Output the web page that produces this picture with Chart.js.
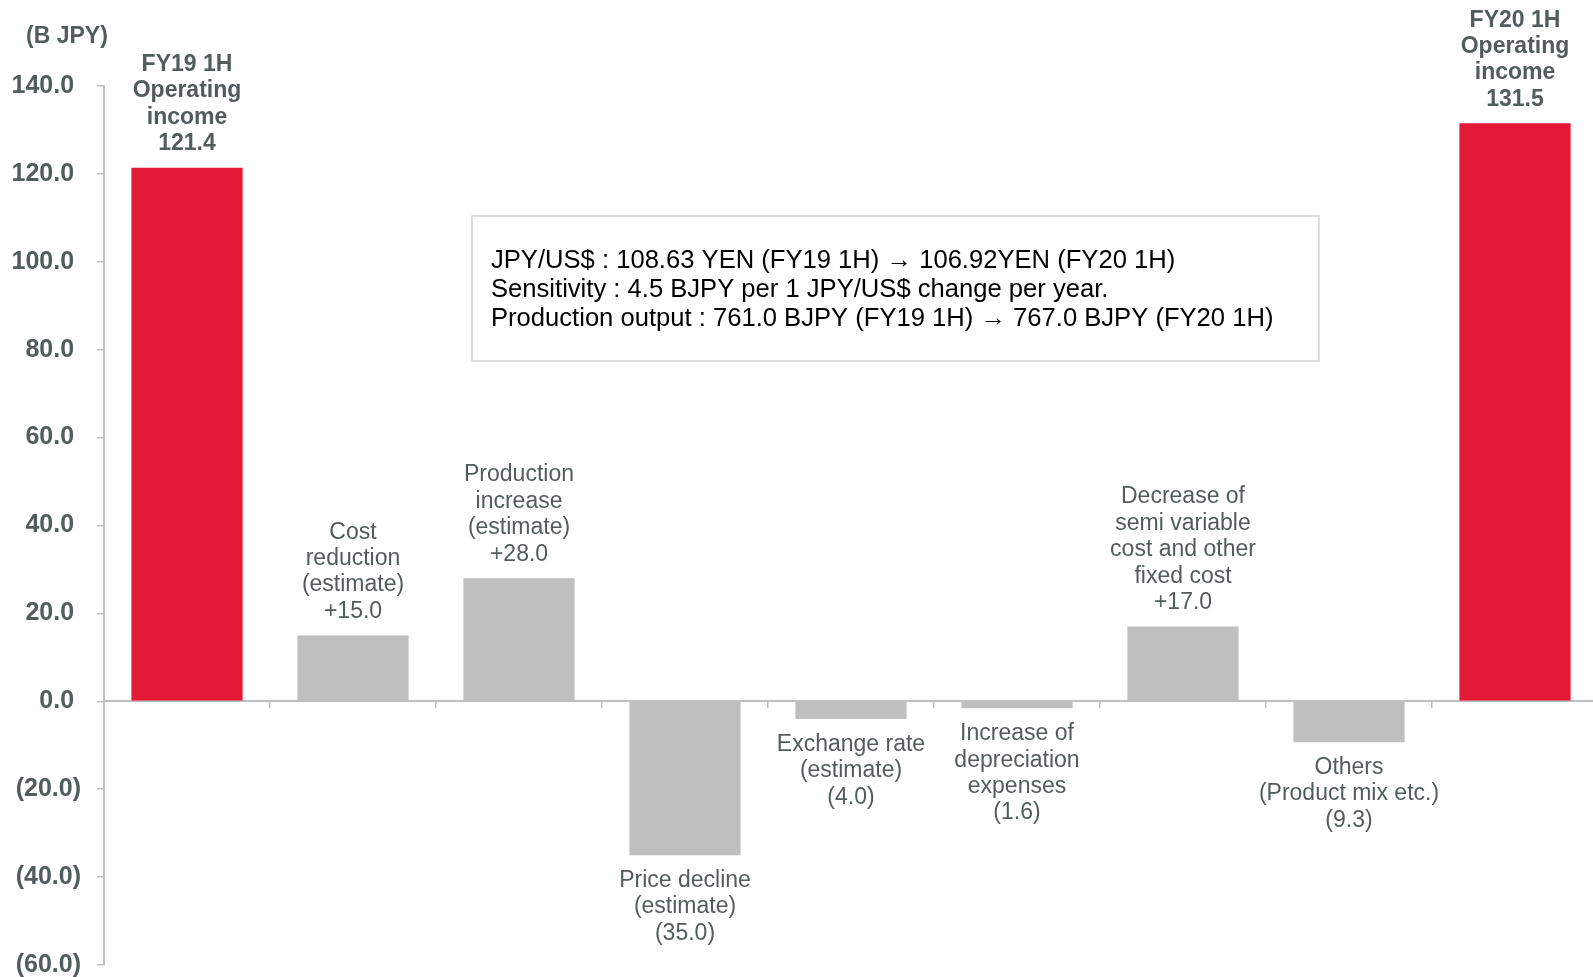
<!DOCTYPE html>
<html lang="en">
<head>
  <meta charset="UTF-8">
  <title>Operating income FY19 1H - FY20 1H</title>
  <script src="https://cdn.jsdelivr.net/npm/chart.js"></script>
  <style>
    html, body { margin: 0; padding: 0; background: #fff; overflow: hidden; }
    #wrap { width: 1598px; height: 977px; }
  </style>
</head>
<body>
  <div id="wrap"><canvas id="chart" width="1598" height="977"></canvas></div>

  <script>
    // category labels (one array of lines per bar)
    const categories = [
      ['FY19 1H', 'Operating', 'income'],
      ['Cost', 'reduction', '(estimate)'],
      ['Production', 'increase', '(estimate)'],
      ['Price decline', '(estimate)'],
      ['Exchange rate', '(estimate)'],
      ['Increase of', 'depreciation', 'expenses'],
      ['Decrease of', 'semi variable', 'cost and other', 'fixed cost'],
      ['Others', '(Product mix etc.)'],
      ['FY20 1H', 'Operating', 'income']
    ];
    const values = [121.4, 15.0, 28.0, -35.0, -4.0, -1.6, 17.0, -9.3, 131.5];
    const isTotal = [true, false, false, false, false, false, false, false, true];

    const yTicks = [-60, -40, -20, 0, 20, 40, 60, 80, 100, 120, 140];
    const unitLabel = '(B JPY)';
    const noteLines = [
      'JPY/US$ : 108.63 YEN (FY19 1H) \u2192 106.92YEN (FY20 1H)',
      'Sensitivity : 4.5 BJPY per 1 JPY/US$ change per year.',
      'Production output : 761.0 BJPY (FY19 1H) \u2192 767.0 BJPY (FY20 1H)'
    ];

    const RED = '#e31937';
    const GREY = '#bfbfbf';
    const TEXT = '#535c5d';
    const FONT = '"Liberation Sans", Arial, sans-serif';

    function fmtValue(v, total) {
      if (total) return v.toFixed(1);
      return v >= 0 ? '+' + v.toFixed(1) : '(' + Math.abs(v).toFixed(1) + ')';
    }

    const labelPlugin = {
      id: 'barLabels',
      afterDatasetsDraw(chart) {
        const ctx = chart.ctx;
        const meta = chart.getDatasetMeta(0);
        const lh = 26.4;
        ctx.save();
        ctx.textAlign = 'center';
        ctx.textBaseline = 'middle';
        ctx.fillStyle = TEXT;
        meta.data.forEach((bar, i) => {
          const lines = categories[i].concat([fmtValue(values[i], isTotal[i])]);
          ctx.font = (isTotal[i] ? 'bold ' : '') + '23px ' + FONT;
          if (values[i] >= 0) {
            const last = bar.y - 24;
            lines.forEach((t, k) => {
              ctx.fillText(t, bar.x, last - (lines.length - 1 - k) * lh);
            });
          } else {
            const first = bar.y + 25.5;
            lines.forEach((t, k) => {
              ctx.fillText(t, bar.x, first + k * lh);
            });
          }
        });

        // unit label
        ctx.font = 'bold 23px ' + FONT;
        ctx.textAlign = 'left';
        ctx.fillText(unitLabel, 26, 37);

        // note box
        ctx.strokeStyle = '#d4d4d4';
        ctx.lineWidth = 1.5;
        ctx.strokeRect(472, 216, 847, 145);
        ctx.fillStyle = '#000';
        ctx.font = '25.6px ' + FONT;
        ctx.textBaseline = 'alphabetic';
        noteLines.forEach((t, k) => ctx.fillText(t, 491, 268 + k * 29));
        ctx.restore();
      }
    };

    new Chart(document.getElementById('chart'), {
      type: 'bar',
      data: {
        labels: categories,
        datasets: [{
          data: values,
          backgroundColor: values.map((v, i) => isTotal[i] ? RED : GREY),
          barPercentage: 0.67,
          categoryPercentage: 1.0
        }]
      },
      options: {
        responsive: false,
        animation: false,
        layout: { padding: { top: 86, bottom: 12, left: 0, right: 0 } },
        plugins: {
          legend: { display: false },
          tooltip: { enabled: false }
        },
        scales: {
          x: {
            position: { y: 0 },
            ticks: { display: false },
            grid: {
              offset: true,
              drawOnChartArea: false,
              drawTicks: true,
              tickLength: 6,
              color: GREY,
              lineWidth: 1.5
            },
            border: { color: GREY, width: 2 }
          },
          y: {
            min: -60,
            max: 140,
            afterBuildTicks: s => { s.ticks = yTicks.map(v => ({ value: v })); },
            afterFit: s => { s.width = 104; s.paddingTop = 0; s.paddingBottom = 0; },
            ticks: {
              padding: 16,
              color: TEXT,
              font: { family: FONT, size: 25, weight: 'bold' },
              callback: v => v >= 0 ? v.toFixed(1) + ' ' : '(' + Math.abs(v).toFixed(1) + ')'
            },
            grid: {
              drawOnChartArea: false,
              drawTicks: true,
              tickLength: 7,
              color: GREY,
              lineWidth: 1.5
            },
            border: { color: GREY, width: 2 }
          }
        }
      },
      plugins: [labelPlugin]
    });
  </script>
</body>
</html>
